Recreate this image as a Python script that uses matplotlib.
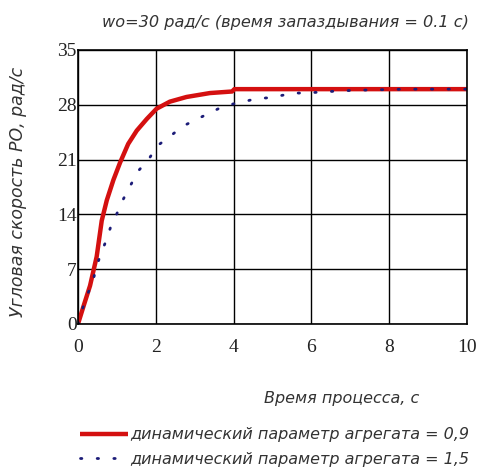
import numpy as np
import matplotlib.pyplot as plt

# red curve: dynamic parameter = 0.9
t_red = [0, 0.15, 0.31, 0.48, 0.61, 0.74, 0.91, 1.08, 1.29, 1.51, 1.77, 2.02, 2.36, 2.79, 3.39, 3.96, 4.02, 5, 6, 7, 8, 9, 10]
w_red = [0, 2.4, 4.9, 8.6, 13.2, 15.8, 18.4, 20.6, 23.0, 24.7, 26.2, 27.5, 28.4, 29.0, 29.5, 29.7, 30.0, 30, 30, 30, 30, 30, 30]

# blue dotted curve: dynamic parameter = 1.5
t_blue = [0, 0.12, 0.22, 0.38, 0.46, 0.58, 0.72, 0.84, 1.0, 1.17, 1.36, 1.54, 1.81, 2.05, 2.37,
          2.71, 3.03, 3.32, 3.65, 3.98, 4.27, 4.59, 4.92, 5.24, 5.55, 5.86, 6.15, 6.49, 6.81, 7.5, 8.5, 10]
w_blue = [0, 2.0, 3.5, 5.4, 7.0, 8.9, 10.6, 12.4, 14.1, 16.0, 17.8, 19.5, 21.0, 22.8, 24.0,
          25.3, 26.1, 26.8, 27.6, 28.1, 28.4, 28.8, 28.9, 29.2, 29.5, 29.5, 29.6, 29.7, 29.8, 29.9, 30, 30]

x_ticks = [0, 2, 4, 6, 8, 10]
y_ticks = [0, 7, 14, 21, 28, 35]

title = "wo=30 рад/с (время запаздывания = 0.1 с)"
xlabel = "Время процесса, с"
ylabel = "Угловая скорость РО, рад/с"
labels = ["динамический параметр агрегата = 0,9", "динамический параметр агрегата = 1,5"]

txt = dict(family="DejaVu Sans", style="italic", color="#333333")

fig = plt.figure(figsize=(4.85, 4.7), dpi=100)
ax = fig.add_axes([78 / 485, 1 - 324 / 470, 389 / 485, 274 / 470])

l1, = ax.plot(t_red, w_red, color="#d41010", lw=3.2, solid_capstyle="butt")
l2, = ax.plot(t_blue, w_blue, color="#1c1c78", lw=2.0, linestyle=(0, (0.5, 5.5)),
              dash_capstyle="round")

ax.set_xlim(0, 10)
ax.set_ylim(0, 35)
ax.set_xticks(x_ticks)
ax.set_yticks(y_ticks)
ax.grid(True, color="black", lw=1.0)
ax.tick_params(length=0, labelsize=14)
ax.tick_params(axis="x", pad=11)
ax.tick_params(axis="y", pad=1)
for lab in ax.get_xticklabels() + ax.get_yticklabels():
    lab.set_family("Liberation Serif")
    lab.set_color("#222222")
for s in ax.spines.values():
    s.set_color("black")
    s.set_linewidth(1.2)

fig.text(285 / 485, 1 - 22 / 470, title, ha="center", va="center", fontsize=11.6, **txt)
fig.text(342 / 485, 1 - 398 / 470, xlabel, ha="center", va="center", fontsize=11.5, **txt)
fig.text(18 / 485, 1 - 192 / 470, ylabel, ha="center", va="center", rotation=90, fontsize=12.5, **txt)

leg = fig.legend([l1, l2], labels, loc="center left", bbox_to_anchor=(66 / 485, 1 - 447 / 470),
                 frameon=False, handlelength=3.0, handletextpad=0.15, labelspacing=0.6,
                 prop=dict(family="DejaVu Sans", style="italic", size=11.5))
for t in leg.get_texts():
    t.set_color("#333333")

fig.savefig("out.png", dpi=100)
